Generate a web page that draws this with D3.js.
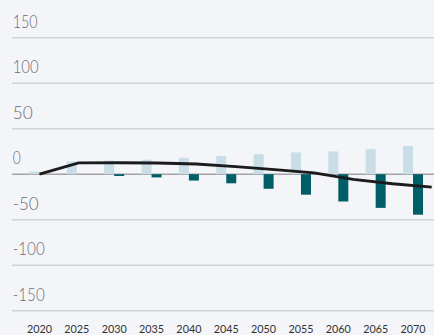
<!DOCTYPE html>
<html>
<head>
<meta charset="utf-8">
<script src="https://cdn.jsdelivr.net/npm/d3@7/dist/d3.min.js"></script>
<style>
  html, body { margin: 0; padding: 0; background: #f4f5f9; }
  svg { display: block; }
</style>
</head>
<body>
<svg id="chart" width="434" height="335"></svg>
<script>
// Years on the horizontal axis
const years = [2020, 2025, 2030, 2035, 2040, 2045, 2050, 2055, 2060, 2065, 2070];
// Positive contribution (light bars)
const positiveValues = [3, 14, 15, 16, 18, 20, 22, 24, 25, 27.5, 31];
// Negative contribution (dark bars)
const negativeValues = [0, 0, -2, -3.5, -7, -10, -16, -22.5, -30, -37, -44.5];
// Net balance (line)
const netValues = [0, 12.4, 12.6, 12.3, 11.2, 8.3, 5, 1.4, -5.6, -10.5, -14.3];
// Value-axis ticks
const yTicks = [150, 100, 50, 0, -50, -100, -150];

const svg = d3.select("#chart");
const W = 434;

const y = d3.scaleLinear().domain([-150, 150]).range([310.7, 37.7]);
const x = d3.scaleBand().domain(years).range([20.8, 431.7]).paddingInner(0).paddingOuter(0);
const xLine = d3.scalePoint().domain(years).range([x(years[0]) + x.bandwidth() / 2, 431.7]);
const barW = 10;

// Gridlines and value labels
const grid = svg.append("g");
yTicks.forEach(t => {
  grid.append("line")
    .attr("x1", 12).attr("x2", W)
    .attr("y1", y(t)).attr("y2", y(t))
    .attr("stroke", t === 0 ? "#a3a4a8" : "#d2d3d8")
    .attr("stroke-width", t === 0 ? 1.6 : 1.4);
});

const labelW = { "150": 25, "100": 26, "50": 20, "0": 8, "-50": 26, "-100": 32, "-150": 32 };
yTicks.forEach(t => {
  const s = String(t);
  grid.append("text")
    .attr("x", 12.7)
    .attr("y", y(t) - 9.8)
    .attr("font-family", "Lato, 'Open Sans', sans-serif")
    .attr("font-weight", 300)
    .attr("font-size", 17.5)
    .attr("fill", "#6c6c71")
    .attr("textLength", labelW[s])
    .attr("lengthAdjust", "spacingAndGlyphs")
    .text(s);
});

// Bars
const bars = svg.append("g");
bars.selectAll("rect.pos")
  .data(years)
  .join("rect")
  .attr("class", "pos")
  .attr("x", d => x(d) + x.bandwidth() / 2 - barW)
  .attr("width", barW)
  .attr("y", (d, i) => y(positiveValues[i]))
  .attr("height", (d, i) => y(0) - y(positiveValues[i]))
  .attr("fill", "#c9dde6");

bars.selectAll("rect.neg")
  .data(years)
  .join("rect")
  .attr("class", "neg")
  .attr("x", d => x(d) + x.bandwidth() / 2)
  .attr("width", barW)
  .attr("y", y(0))
  .attr("height", (d, i) => y(negativeValues[i]) - y(0))
  .attr("fill", "#005e66");

// Net line
const line = d3.line()
  .x((d, i) => xLine(years[i]))
  .y(d => y(d));
svg.append("path")
  .datum(netValues)
  .attr("d", line)
  .attr("fill", "none")
  .attr("stroke", "#1b1b1c")
  .attr("stroke-width", 2.8)
  .attr("stroke-linejoin", "round");

// Year labels
const xAxis = d3.axisBottom(x).tickSize(0).tickPadding(0);
const gx = svg.append("g").attr("transform", "translate(0,325)").call(xAxis);
gx.select(".domain").remove();
gx.selectAll("text")
  .attr("font-family", "Lato, 'Open Sans', sans-serif")
  .attr("font-size", 10.8)
  .attr("fill", "#333")
  .attr("dy", "0.71em");
</script>
</body>
</html>
